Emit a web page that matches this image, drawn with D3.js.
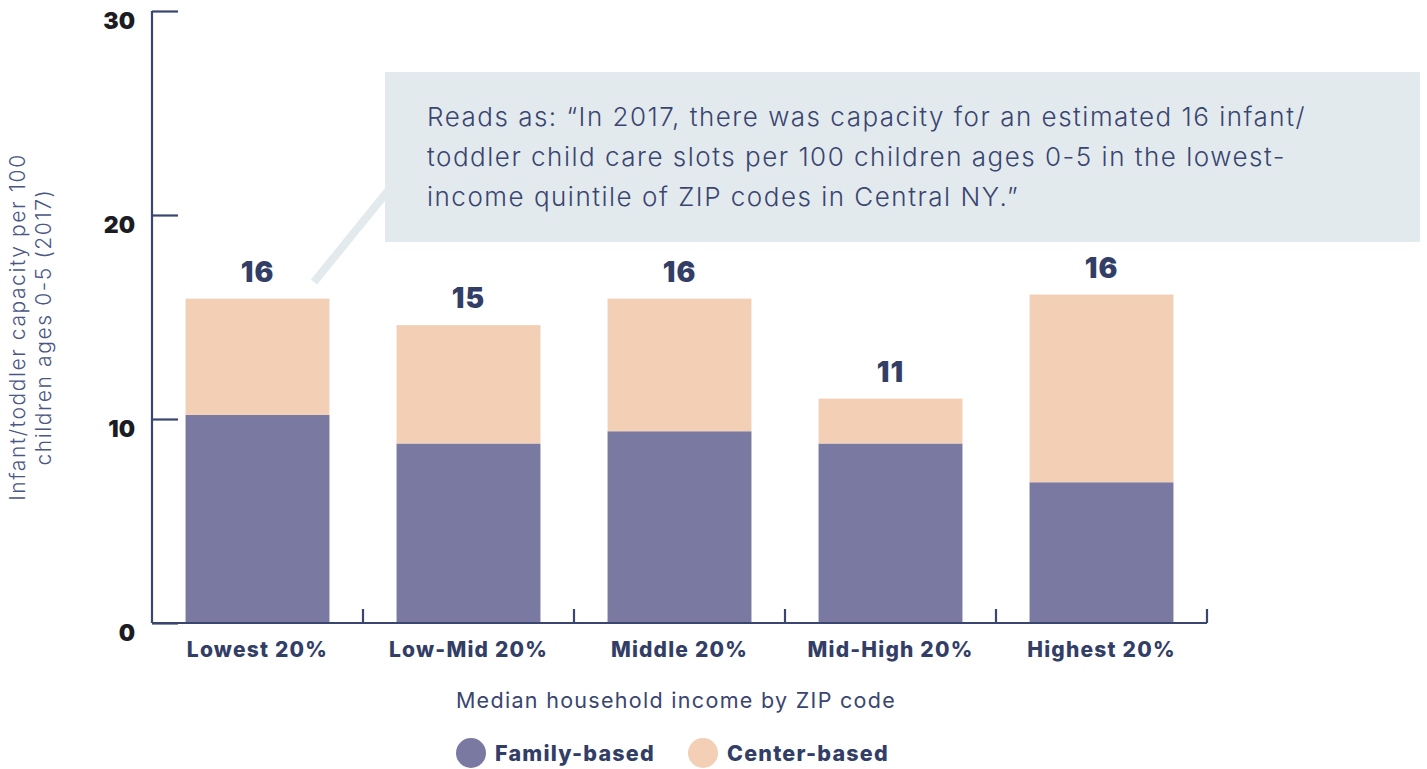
<!DOCTYPE html>
<html>
<head>
<meta charset="utf-8">
<script src="https://cdn.jsdelivr.net/npm/d3@7"></script>
<style>
  body { margin: 0; background: #fff; }
  text { font-family: Inter, "Noto Sans", sans-serif; }
</style>
</head>
<body>
<div id="chart"></div>
<script>
var categories = ["Lowest 20%", "Low-Mid 20%", "Middle 20%", "Mid-High 20%", "Highest 20%"];
var familyBased = [10.2, 8.8, 9.4, 8.8, 6.9];
var centerBased = [5.7, 5.8, 6.5, 2.2, 9.2];
var yTicks = [0, 10, 20, 30];
var seriesNames = ["Family-based", "Center-based"];
var noteLines = [
  "Reads as: \u201CIn 2017, there was capacity for an estimated 16 infant/",
  "toddler child care slots per 100 children ages 0-5 in the lowest-",
  "income quintile of ZIP codes in Central NY.\u201D"
];

var width = 1427, height = 769;
var navy = "#323e66", axisCol = "#3a4570";
var colors = ["#7a79a1", "#f2cfb5"];

var svg = d3.select("#chart").append("svg")
  .attr("width", width)
  .attr("height", height);

var x = d3.scaleBand().domain(categories).range([152, 1207]).paddingInner(0.318).paddingOuter(0.159);
var y = d3.scaleLinear().domain([0, 30]).range([623, 11]);

var rows = categories.map(function(c, i){
  return { cat: c, family: familyBased[i], center: centerBased[i] };
});
var stack = d3.stack().keys(["family", "center"])(rows);

// callout connector (under the box)
svg.append("line")
  .attr("x1", 314).attr("y1", 282)
  .attr("x2", 400).attr("y2", 176)
  .attr("stroke", "#e3eaee")
  .attr("stroke-width", 8);

svg.append("rect")
  .attr("x", 385).attr("y", 72)
  .attr("width", 1035).attr("height", 170)
  .attr("fill", "#e3eaee");

svg.append("g").selectAll("text")
  .data(noteLines)
  .enter().append("text")
  .attr("x", 427)
  .attr("y", function(d, i){ return 126 + i * 40; })
  .attr("fill", axisCol)
  .attr("font-size", 26)
  .attr("font-weight", 300)
  .attr("letter-spacing", 1.5)
  .text(function(d){ return d; });

// bars
svg.append("g").selectAll("g")
  .data(stack)
  .enter().append("g")
  .attr("fill", function(d, i){ return colors[i]; })
  .selectAll("rect")
  .data(function(d){ return d; })
  .enter().append("rect")
  .attr("x", function(d){ return x(d.data.cat); })
  .attr("width", x.bandwidth())
  .attr("y", function(d){ return y(d[1]); })
  .attr("height", function(d){ return y(d[0]) - y(d[1]); });

// totals
svg.append("g").selectAll("text")
  .data(rows)
  .enter().append("text")
  .attr("x", function(d){ return x(d.cat) + x.bandwidth() / 2; })
  .attr("y", function(d){ return y(d.family + d.center) - 17; })
  .attr("text-anchor", "middle")
  .attr("fill", navy)
  .attr("font-size", 28)
  .attr("font-weight", 900)
  .attr("letter-spacing", 1)
  .text(function(d){ return Math.round(d.family + d.center); });

// y axis
var yAxis = svg.append("g")
  .attr("transform", "translate(152,0)")
  .call(d3.axisRight(y).tickValues(yTicks).tickSize(26).tickFormat(""));
yAxis.select(".domain").attr("stroke", axisCol).attr("stroke-width", 2.2).attr("d", "M0,11V623");
yAxis.selectAll(".tick line").attr("stroke", axisCol).attr("stroke-width", 2.2);

svg.append("g").selectAll("text")
  .data(yTicks)
  .enter().append("text")
  .attr("x", 135)
  .attr("y", function(d){ return y(d) + 18; })
  .attr("text-anchor", "end")
  .attr("fill", "#1c1c24")
  .attr("font-size", 23)
  .attr("font-weight", 900)
  .text(function(d){ return d; });

// x axis: baseline with ticks between bands
svg.append("line")
  .attr("x1", 152).attr("x2", 1207)
  .attr("y1", 623).attr("y2", 623)
  .attr("stroke", axisCol).attr("stroke-width", 2.2);

var bounds = categories.map(function(c){ return x(c) + x.bandwidth() + x.step() * 0.159; });
svg.append("g").selectAll("line")
  .data(bounds)
  .enter().append("line")
  .attr("x1", function(d){ return d; }).attr("x2", function(d){ return d; })
  .attr("y1", 609).attr("y2", 623)
  .attr("stroke", axisCol).attr("stroke-width", 2.2);

svg.append("g").selectAll("text")
  .data(categories)
  .enter().append("text")
  .attr("x", function(d){ return x(d) + x.bandwidth() / 2; })
  .attr("y", 657)
  .attr("text-anchor", "middle")
  .attr("fill", navy)
  .attr("font-size", 21)
  .attr("font-weight", 800)
  .attr("letter-spacing", 1.2)
  .text(function(d){ return d; });

svg.append("text")
  .attr("x", 676).attr("y", 708)
  .attr("text-anchor", "middle")
  .attr("fill", axisCol)
  .attr("font-size", 21.5)
  .attr("font-weight", 400)
  .attr("letter-spacing", 1.3)
  .text("Median household income by ZIP code");

// y title
var yTitle = svg.append("text")
  .attr("transform", "translate(25,327) rotate(-90)")
  .attr("text-anchor", "middle")
  .attr("fill", "#4a5684")
  .attr("font-size", 21)
  .attr("font-weight", 300)
  .attr("letter-spacing", 1.6);
yTitle.append("tspan").attr("x", 0).attr("dy", 0).text("Infant/toddler capacity per 100");
yTitle.append("tspan").attr("x", 0).attr("dy", 26).text("children ages 0-5 (2017)");

// legend
var legendX = [471, 703];
var legend = svg.append("g").selectAll("g")
  .data(seriesNames)
  .enter().append("g")
  .attr("transform", function(d, i){ return "translate(" + legendX[i] + ",753)"; });
legend.append("circle").attr("r", 15).attr("fill", function(d, i){ return colors[i]; });
legend.append("text")
  .attr("x", 24).attr("y", 8)
  .attr("fill", navy)
  .attr("font-size", 21.5)
  .attr("font-weight", 800)
  .attr("letter-spacing", 1.2)
  .text(function(d){ return d; });
</script>
</body>
</html>
